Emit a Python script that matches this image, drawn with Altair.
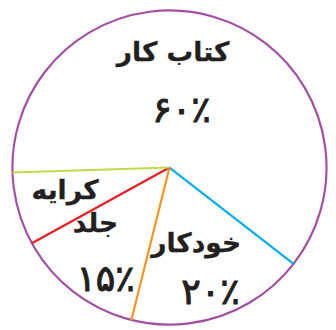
import math
import altair as alt
import pandas as pd

# ---- data ----
categories = ["خودکار", "جلد", "کرایه", "کتاب کار"]
shares = [18.4, 13.1, 7.5, 61.0]          # drawn angular share of each slice (%)
edge_colors = ["#00aeef", "#f7941d", "#ed1c24", "#c5d94b"]
name_texts = ["کتاب کار", "خودکار", "جلد", "کرایه"]
percent_texts = ["۶۰٪", "۲۰٪", "۱۵٪"]

# ---- layout ----
W, H = 326, 322
CX, CY = 164.5, 159.5
R = 160
START_DEG = 127.8
name_theta = [65.0, 9.2, 29.1, 36.0]      # in pie units (0-100)
name_radius = [117, 83, 95, 109]
pct_theta = [67.8, 9.5, 22.7]
pct_radius = [59, 135, 132]

df = pd.DataFrame({"category": categories, "share": shares, "order": range(len(categories))})
names = pd.DataFrame({"label": name_texts, "pos": name_theta, "r": name_radius})
pcts = pd.DataFrame({"label": percent_texts, "pos": pct_theta, "r": pct_radius})

start = math.radians(START_DEG)
theta_scale = alt.Scale(domain=[0, 100], range=[start, start + 2 * math.pi])

circle = (
    alt.Chart(df)
    .transform_aggregate(total="sum(share)")
    .mark_arc(filled=False, stroke="#a24fa4", strokeWidth=2.2, outerRadius=R)
    .encode(theta=alt.Theta("total:Q", scale=theta_scale), x=alt.value(CX), y=alt.value(CY))
)

edges = (
    alt.Chart(df)
    .transform_window(cum="sum(share)", sort=[alt.SortField("order")])
    .transform_calculate(start="datum.cum - datum.share")
    .mark_arc(filled=False, strokeWidth=2.2, outerRadius=R)
    .encode(
        theta=alt.Theta("start:Q", scale=theta_scale),
        theta2="start:Q",
        stroke=alt.Stroke("category:N", scale=alt.Scale(domain=categories, range=edge_colors), legend=None),
        x=alt.value(CX),
        y=alt.value(CY),
    )
)


def label_layer(data, size, weight, outline):
    return (
        alt.Chart(data)
        .mark_text(font="DejaVu Sans", fontSize=size, fontWeight=weight, color="#231f20",
                   stroke="#231f20", strokeWidth=outline, baseline="middle", align="center")
        .encode(
            theta=alt.Theta("pos:Q", scale=theta_scale),
            radius=alt.Radius("r:Q", scale=None),
            text="label:N",
            x=alt.value(CX),
            y=alt.value(CY),
        )
    )


chart = (
    alt.layer(circle, edges, label_layer(names, 27, "bold", 0.3), label_layer(pcts, 37, "normal", 1.1))
    .properties(width=W, height=H, padding=0, autosize=alt.AutoSizeParams(type="none"))
    .configure_view(stroke=None)
)

chart.save("out.html", embed_options={"renderer": "svg", "actions": False})
